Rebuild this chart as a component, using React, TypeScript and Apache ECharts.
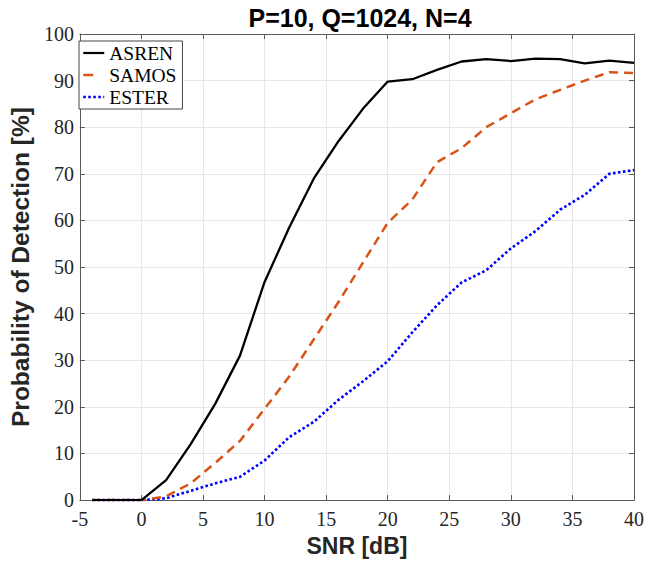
import React, { useEffect, useRef } from "react";
import * as echarts from "echarts";

const snr = [-4, -2, 0, 2, 4, 6, 8, 10, 12, 14, 16, 18, 20, 22, 24, 26, 28, 30, 32, 34, 36, 38, 40];
const asren = [0, 0, 0, 4.3, 12, 20.7, 31, 46.8, 58.5, 69, 77, 84, 89.8, 90.3, 92.3, 94.1, 94.6, 94.2, 94.7, 94.6, 93.7, 94.3, 93.8];
const samos = [0, 0, 0, 0.8, 3.6, 8, 12.7, 19.6, 26.5, 34.5, 42.5, 51, 59.5, 64.5, 72.5, 75.5, 80, 83, 86, 88, 90, 91.8, 91.6];
const ester = [0, 0, 0, 0.4, 2, 3.6, 5, 8.5, 13.5, 16.8, 21.5, 25.5, 29.8, 36, 41.8, 46.7, 49.3, 54, 57.7, 62.3, 65.5, 70, 70.8];

const xTicks = { min: -5, max: 40, interval: 5 };
const yTicks = { min: 0, max: 100, interval: 10 };

const titleText = "P=10, Q=1024, N=4";
const xName = "SNR [dB]";
const yName = "Probability of Detection [%]";

const toPairs = (vals: number[]) => vals.map((v, i) => [snr[i], v]);

export default function App() {
  const ref = useRef<HTMLDivElement>(null);
  useEffect(() => {
    if (!ref.current) return;
    const chart = echarts.init(ref.current, null, { renderer: "svg" });
    const serif = "Liberation Serif";
    const sans = "Liberation Sans";
    const axisColor = "#5a5a5a";
    const gridColor = "#e8e8e8";
    const orangeDash = [9, 6];
    const blueDot = [2.6, 2.4];
    const baseX = {
      type: "value" as const,
      min: xTicks.min,
      max: xTicks.max,
      interval: xTicks.interval,
    };
    const baseY = {
      type: "value" as const,
      min: yTicks.min,
      max: yTicks.max,
      interval: yTicks.interval,
    };
    const axLine = { show: true, onZero: false, lineStyle: { color: axisColor, width: 1 } };
    const axTick = { show: true, inside: true, length: 5, lineStyle: { color: axisColor } };
    chart.setOption({
      animation: false,
      backgroundColor: "#ffffff",
      title: {
        text: titleText,
        left: 355,
        textAlign: "center",
        top: 0,
        textStyle: { fontFamily: sans, fontWeight: "bold", fontSize: 25, color: "#000" },
      },
      grid: { left: 73, right: 11, top: 34, bottom: 61, containLabel: false },
      legend: {
        left: 79,
        top: 41,
        orient: "vertical",
        padding: [2, 6, 2, 3],
        itemGap: 2,
        itemWidth: 21,
        itemHeight: 14,
        borderColor: "#444",
        borderWidth: 1,
        borderRadius: 0,
        backgroundColor: "#fff",
        itemStyle: { opacity: 0 },
        textStyle: { fontFamily: serif, fontSize: 19.5, lineHeight: 20, color: "#000" },
        data: [
          { name: "ASREN", itemStyle: { opacity: 0 }, lineStyle: { color: "#000000", width: 2.2, type: "solid" } },
          { name: "SAMOS", itemStyle: { opacity: 0 }, lineStyle: { color: "#D95319", width: 2.5, type: [10, 12] } },
          { name: "ESTER", itemStyle: { opacity: 0 }, lineStyle: { color: "#0000FF", width: 2.5, type: blueDot } },
        ],
      },
      xAxis: [
        {
          ...baseX,
          position: "bottom",
          name: xName,
          nameLocation: "middle",
          nameGap: 28,
          nameTextStyle: { fontFamily: sans, fontWeight: "bold", fontSize: 23, color: "#262626" },
          axisLine: axLine,
          axisTick: axTick,
          axisLabel: { fontFamily: serif, fontSize: 20, color: "#262626", margin: 9 },
          splitLine: { show: true, lineStyle: { color: gridColor, width: 1 } },
        },
        {
          ...baseX,
          position: "top",
          axisLine: axLine,
          axisTick: axTick,
          axisLabel: { show: false },
          splitLine: { show: false },
        },
      ],
      yAxis: [
        {
          ...baseY,
          position: "left",
          name: yName,
          nameLocation: "middle",
          nameGap: 41,
          nameTextStyle: { fontFamily: sans, fontWeight: "bold", fontSize: 24.5, color: "#262626" },
          axisLine: axLine,
          axisTick: axTick,
          axisLabel: { fontFamily: serif, fontSize: 20, color: "#262626", margin: 6 },
          splitLine: { show: true, lineStyle: { color: gridColor, width: 1 } },
        },
        {
          ...baseY,
          position: "right",
          axisLine: axLine,
          axisTick: axTick,
          axisLabel: { show: false },
          splitLine: { show: false },
        },
      ],
      series: [
        {
          name: "ASREN",
          type: "line",
          xAxisIndex: 0,
          yAxisIndex: 0,
          symbol: "none",
          data: toPairs(asren),
          itemStyle: { color: "#000000" },
          lineStyle: { color: "#000000", width: 2.3, type: "solid" },
          z: 4,
        },
        {
          name: "SAMOS",
          type: "line",
          xAxisIndex: 0,
          yAxisIndex: 0,
          symbol: "none",
          data: toPairs(samos),
          itemStyle: { color: "#D95319" },
          lineStyle: { color: "#D95319", width: 2.5, type: orangeDash },
          z: 3,
        },
        {
          name: "ESTER",
          type: "line",
          xAxisIndex: 0,
          yAxisIndex: 0,
          symbol: "none",
          data: toPairs(ester),
          itemStyle: { color: "#0000FF" },
          lineStyle: { color: "#0000FF", width: 2.6, type: blueDot },
          z: 2,
        },
      ],
    });
    return () => chart.dispose();
  }, []);
  return <div ref={ref} style={{ width: 647, height: 562, position: "absolute", left: 0, top: 0 }} />;
}
